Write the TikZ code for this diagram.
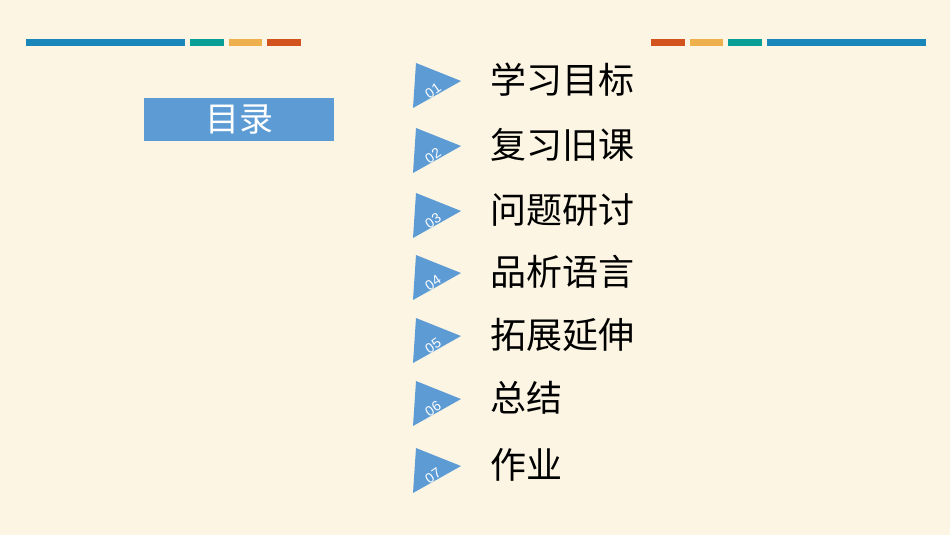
\documentclass[tikz,border=0pt]{standalone}
\usepackage{fontspec}
\newfontfamily\cjk{Noto Sans CJK SC}
\setmainfont{Liberation Sans}
\definecolor{bg}{HTML}{FCF5E3}
\definecolor{cblue}{HTML}{1A87BA}
\definecolor{cteal}{HTML}{08A096}
\definecolor{corange}{HTML}{EEB04D}
\definecolor{cred}{HTML}{D3531F}
\definecolor{boxblue}{HTML}{5D9BD5}
\begin{document}
\begin{tikzpicture}[x=1pt,y=-1pt,
  item/.style={anchor=west,font=\cjk\fontsize{36}{36}\selectfont,inner sep=0},
  num/.style={text=white,font=\fontsize{14}{14}\selectfont,rotate=35,inner sep=0}]
\fill[bg] (0,0) rectangle (950,535);
\useasboundingbox (0,0) rectangle (950,535);
\fill[cblue] (26,39) rectangle (185,46);
\fill[cteal] (190,39) rectangle (224,46);
\fill[corange] (229,39) rectangle (262,46);
\fill[cred] (267,39) rectangle (301,46);
\fill[cred] (651,39) rectangle (685,46);
\fill[corange] (690,39) rectangle (723,46);
\fill[cteal] (728,39) rectangle (762,46);
\fill[cblue] (767,39) rectangle (926,46);
\node[fill=boxblue,minimum width=190,minimum height=43,inner sep=0,text=white,font=\cjk\fontsize{34}{34}\selectfont] (title) at (239,119) {目录};
\foreach \y/\n/\t [count=\i] in {80/01/学习目标,145/02/复习旧课,210/03/问题研讨,272/04/品析语言,335/05/拓展延伸,398/06/总结,465/07/作业}{
  \fill[boxblue] (416,\y-17) -- (461,\y+1) -- (413,\y+28) -- cycle;
  \node[num] (n\i) at (433,\y+11) {\n};
  \node[item] (t\i) at (490,\y) {\t};
}
\end{tikzpicture}
\end{document}
